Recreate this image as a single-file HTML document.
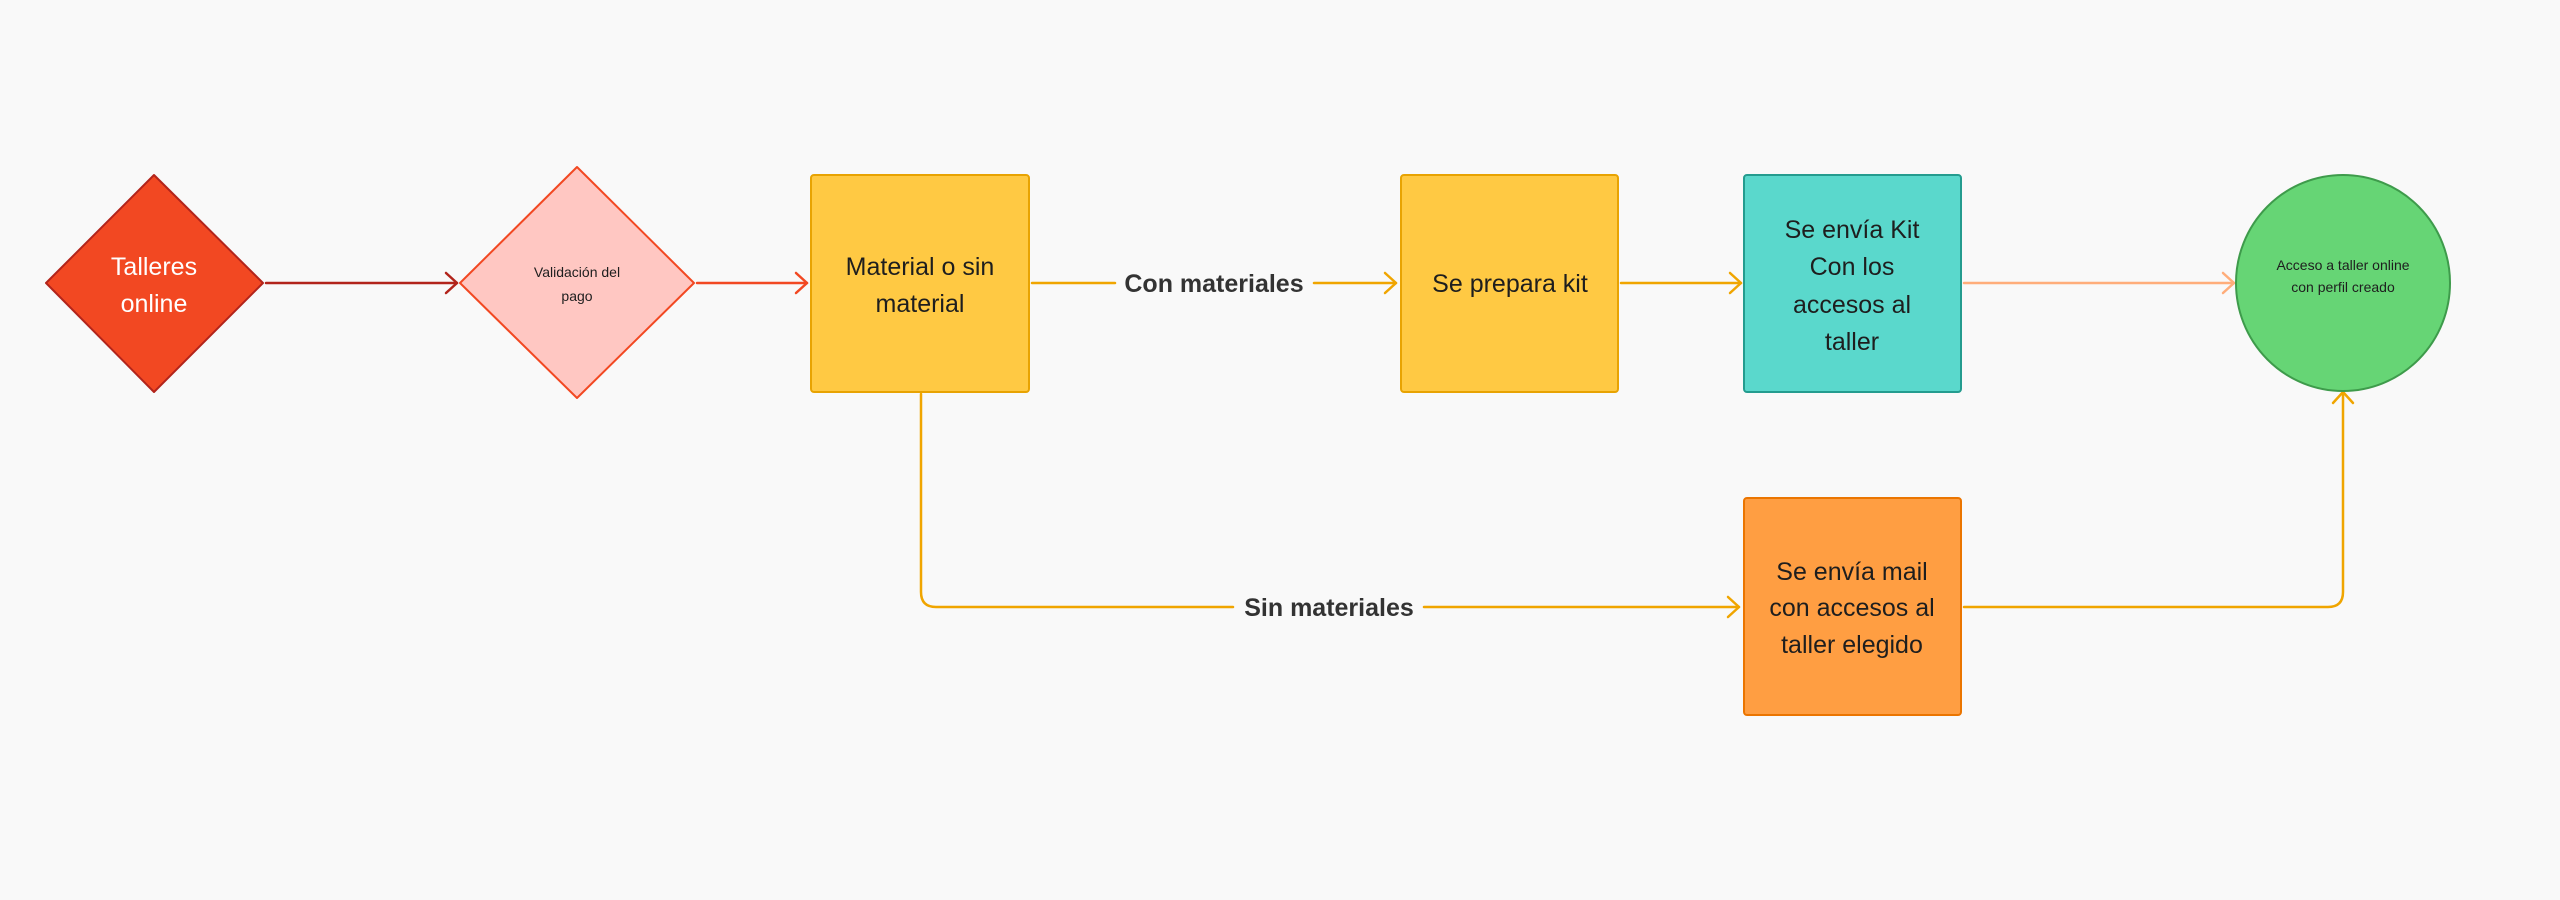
<!DOCTYPE html>
<html><head><meta charset="utf-8"><style>
body{margin:0;background:#f9f9f9;width:2560px;height:900px;overflow:hidden;font-family:"Liberation Sans",sans-serif}
</style></head><body>
<svg width="2560" height="900" xmlns="http://www.w3.org/2000/svg" style="position:absolute;left:0;top:0">
<g fill="none" stroke-width="2.5" stroke-linecap="round" stroke-linejoin="round">
<path d="M266 283H457" stroke="#b2241b"/><path d="M446 273l11 10-11 10" stroke="#b2241b"/>
<path d="M697 283H807" stroke="#f24822"/><path d="M796 273l11 10-11 10" stroke="#f24822"/>
<path d="M1032 283H1115M1314 283H1396" stroke="#f0a500"/><path d="M1385 273l11 10-11 10" stroke="#f0a500"/>
<path d="M1621 283H1741" stroke="#f0a500"/><path d="M1730 273l11 10-11 10" stroke="#f0a500"/>
<path d="M1964 283H2234" stroke="#ffad7a"/><path d="M2223 273l11 10-11 10" stroke="#ffad7a"/>
<path d="M921 394V592q0 15 15 15H1233M1424 607H1739" stroke="#f0a500"/><path d="M1728 597l11 10-11 10" stroke="#f0a500"/>
<path d="M1964 607H2328q15 0 15-15V392" stroke="#f0a500"/><path d="M2333 403l10-11 10 11" stroke="#f0a500"/>
</g>
<path d="M154 175L263 283L154 392L46 283Z" fill="#f24822" stroke="#b2241b" stroke-width="2" stroke-linejoin="round"/>
<path d="M577 167L694 283L577 398L460 283Z" fill="#ffc7c2" stroke="#f24822" stroke-width="2" stroke-linejoin="round"/>
<rect x="811" y="175" width="218" height="217" rx="3" fill="#ffc943" stroke="#e8a302" stroke-width="2"/>
<rect x="1401" y="175" width="217" height="217" rx="3" fill="#ffc943" stroke="#e8a302" stroke-width="2"/>
<rect x="1744" y="175" width="217" height="217" rx="3" fill="#5ad8cc" stroke="#249c8f" stroke-width="2"/>
<rect x="1744" y="498" width="217" height="217" rx="3" fill="#ff9e42" stroke="#eb7500" stroke-width="2"/>
<ellipse cx="2343" cy="283" rx="107" ry="108" fill="#66d575" stroke="#3e9b4b" stroke-width="2"/>
<g font-family="Liberation Sans, sans-serif" text-anchor="middle" fill="#1e1e1e">
<text x="154" y="275" font-size="25" fill="#fff">Talleres</text>
<text x="154" y="312" font-size="25" fill="#fff">online</text>
<text x="577" y="277" font-size="14">Validación del</text>
<text x="577" y="301" font-size="14">pago</text>
<text x="920" y="275" font-size="25">Material o sin</text>
<text x="920" y="312" font-size="25">material</text>
<text x="1510" y="292" font-size="25">Se prepara kit</text>
<text x="1852" y="238" font-size="25">Se envía Kit</text>
<text x="1852" y="275" font-size="25">Con los</text>
<text x="1852" y="313" font-size="25">accesos al</text>
<text x="1852" y="350" font-size="25">taller</text>
<text x="1852" y="580" font-size="25">Se envía mail</text>
<text x="1852" y="616" font-size="25">con accesos al</text>
<text x="1852" y="653" font-size="25">taller elegido</text>
<text x="2343" y="270" font-size="14">Acceso a taller online</text>
<text x="2343" y="292" font-size="14">con perfil creado</text>
<text x="1214" y="292" font-size="25" font-weight="bold" fill="#333">Con materiales</text>
<text x="1329" y="616" font-size="25" font-weight="bold" fill="#333">Sin materiales</text>
</g>
</svg>
</body></html>
